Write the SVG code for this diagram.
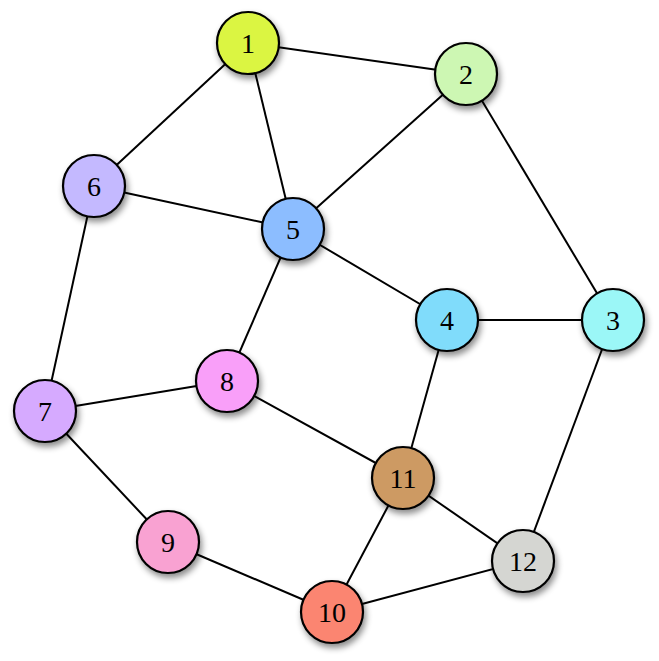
<svg xmlns="http://www.w3.org/2000/svg" width="659" height="661" viewBox="0 0 659 661">
<defs>
<filter id="sh" x="-30%" y="-30%" width="170%" height="170%">
<feDropShadow dx="2" dy="4" stdDeviation="3" flood-color="#000" flood-opacity="0.45"/>
</filter>
<style>
.e{stroke:#000;stroke-width:2;fill:none}
.n circle{stroke:#000;stroke-width:2.2;filter:url(#sh)}
.n text{font-family:"Liberation Serif","Times New Roman",serif;font-size:28px;text-anchor:middle;fill:#000}
</style>
</defs>
<rect width="659" height="661" fill="#fff"/>
<g id="edges">
<line class="e" x1="248" y1="43" x2="466" y2="74"/>
<line class="e" x1="248" y1="43" x2="94" y2="186"/>
<line class="e" x1="248" y1="43" x2="293" y2="229"/>
<line class="e" x1="466" y1="74" x2="293" y2="229"/>
<line class="e" x1="466" y1="74" x2="613" y2="320"/>
<line class="e" x1="94" y1="186" x2="293" y2="229"/>
<line class="e" x1="94" y1="186" x2="45" y2="411"/>
<line class="e" x1="293" y1="229" x2="447" y2="320"/>
<line class="e" x1="293" y1="229" x2="227" y2="381"/>
<line class="e" x1="447" y1="320" x2="613" y2="320"/>
<line class="e" x1="447" y1="320" x2="403" y2="478"/>
<line class="e" x1="613" y1="320" x2="523" y2="561"/>
<line class="e" x1="45" y1="411" x2="227" y2="381"/>
<line class="e" x1="45" y1="411" x2="168" y2="542"/>
<line class="e" x1="227" y1="381" x2="403" y2="478"/>
<line class="e" x1="403" y1="478" x2="523" y2="561"/>
<line class="e" x1="403" y1="478" x2="332" y2="612"/>
<line class="e" x1="168" y1="542" x2="332" y2="612"/>
<line class="e" x1="332" y1="612" x2="523" y2="561"/>
</g>
<g id="n1" class="n"><circle cx="248" cy="43" r="31" fill="#dbf542"/><text x="248" y="53">1</text></g>
<g id="n2" class="n"><circle cx="466" cy="74" r="31" fill="#cdf7b3"/><text x="466" y="84">2</text></g>
<g id="n3" class="n"><circle cx="613" cy="320" r="31" fill="#9bf7f7"/><text x="613" y="330">3</text></g>
<g id="n4" class="n"><circle cx="447" cy="320" r="31" fill="#80dcfb"/><text x="447" y="330">4</text></g>
<g id="n5" class="n"><circle cx="293" cy="229" r="31" fill="#8cbdff"/><text x="293" y="239">5</text></g>
<g id="n6" class="n"><circle cx="94" cy="186" r="31" fill="#c4b9ff"/><text x="94" y="196">6</text></g>
<g id="n7" class="n"><circle cx="45" cy="411" r="31" fill="#d6aaff"/><text x="45" y="421">7</text></g>
<g id="n8" class="n"><circle cx="227" cy="381" r="31" fill="#f99ff9"/><text x="227" y="391">8</text></g>
<g id="n9" class="n"><circle cx="168" cy="542" r="31" fill="#f9a2d2"/><text x="168" y="552">9</text></g>
<g id="n10" class="n"><circle cx="332" cy="612" r="31" fill="#fb8571"/><text x="332" y="622">10</text></g>
<g id="n11" class="n"><circle cx="403" cy="478" r="31" fill="#cd9a64"/><text x="403" y="488">11</text></g>
<g id="n12" class="n"><circle cx="523" cy="561" r="31" fill="#d5d6d2"/><text x="523" y="571">12</text></g>
</svg>
